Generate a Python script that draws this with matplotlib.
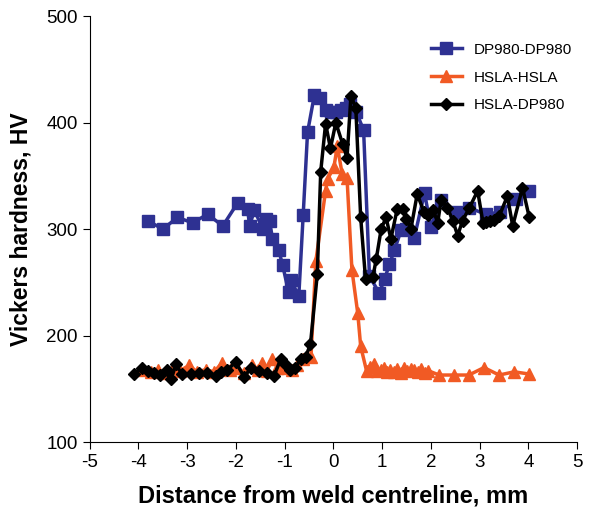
import matplotlib

matplotlib.use("Agg")
import matplotlib.pyplot as plt

plt.rcParams["font.family"] = ["Liberation Sans", "DejaVu Sans"]
plt.rcParams["axes.unicode_minus"] = False

# DP980-DP980 (blue squares)
dp_x = [-3.81, -3.50, -3.20, -2.89, -2.58, -2.27, -1.96, -1.76, -1.72, -1.62,
        -1.45, -1.38, -1.31, -1.25, -1.12, -1.04, -0.92, -0.87, -0.71, -0.62,
        -0.53, -0.39, -0.27, -0.15, -0.05, 0.05, 0.15, 0.25, 0.35, 0.47,
        0.62, 0.74, 0.94, 1.05, 1.15, 1.25, 1.39, 1.50, 1.66, 1.87,
        2.00, 2.21, 2.52, 2.79, 3.13, 3.41, 3.75, 4.02]
dp_hv = [308, 300, 311, 306, 314, 303, 325, 319, 303, 318,
         300, 310, 308, 291, 280, 266, 241, 252, 237, 313,
         391, 426, 423, 412, 410, 410, 412, 414, 418, 410,
         393, 256, 240, 253, 267, 280, 299, 300, 292, 334,
         302, 327, 316, 320, 314, 316, 328, 336]

# HSLA-HSLA (orange triangles)
hsla_x = [-3.90, -3.75, -3.60, -3.45, -3.30, -3.15, -2.96, -2.80, -2.62, -2.45,
          -2.29, -2.12, -1.97, -1.83, -1.68, -1.55, -1.47, -1.36, -1.26, -1.15,
          -1.05, -0.95, -0.85, -0.75, -0.62, -0.46, -0.36, -0.16, -0.12, 0.01,
          0.08, 0.18, 0.28, 0.38, 0.50, 0.56, 0.68, 0.76, 0.83, 0.90,
          0.97, 1.03, 1.10, 1.17, 1.24, 1.31, 1.38, 1.45, 1.52, 1.59,
          1.66, 1.73, 1.80, 1.87, 1.95, 2.17, 2.47, 2.78, 3.09, 3.40,
          3.71, 4.01]
hsla_hv = [168, 166, 168, 165, 170, 167, 172, 166, 168, 166,
           174, 168, 170, 165, 172, 168, 174, 167, 178, 170,
           173, 170, 168, 172, 178, 180, 270, 336, 347, 358,
           378, 352, 348, 262, 221, 190, 167, 171, 173, 167,
           168, 170, 166, 168, 166, 169, 165, 170, 167, 169,
           168, 166, 169, 165, 167, 163, 163, 163, 170, 163,
           166, 164]

# HSLA-DP980 (black diamonds)
mix_x = [-4.10, -3.93, -3.80, -3.69, -3.55, -3.42, -3.33, -3.23, -3.11, -2.93,
         -2.76, -2.60, -2.41, -2.30, -2.18, -2.00, -1.83, -1.69, -1.53, -1.36,
         -1.22, -1.08, -0.98, -0.88, -0.78, -0.67, -0.57, -0.47, -0.33, -0.26,
         -0.16, -0.06, 0.05, 0.19, 0.28, 0.36, 0.46, 0.56, 0.66, 0.81,
         0.88, 0.98, 1.08, 1.18, 1.31, 1.42, 1.50, 1.59, 1.72, 1.86,
         1.95, 2.05, 2.14, 2.21, 2.34, 2.45, 2.55, 2.65, 2.79, 2.96,
         3.07, 3.14, 3.22, 3.30, 3.40, 3.57, 3.68, 3.88, 4.02]
mix_hv = [164, 170, 167, 165, 163, 168, 159, 173, 164, 164,
          165, 165, 162, 166, 168, 175, 161, 170, 167, 165,
          162, 178, 172, 168, 170, 178, 180, 192, 258, 354,
          399, 376, 400, 380, 367, 425, 414, 311, 253, 255,
          272, 300, 311, 291, 319, 319, 310, 300, 333, 316,
          313, 318, 306, 327, 320, 308, 294, 308, 320, 336,
          306, 307, 308, 309, 312, 331, 303, 339, 311]

fig = plt.figure(figsize=(5.98, 5.07), dpi=100)
ax = fig.add_axes([0.150, 0.128, 0.815, 0.840])

ax.plot(dp_x, dp_hv, "s-", color="#2E3192", lw=2.5, ms=8, label="DP980-DP980")
ax.plot(hsla_x, hsla_hv, "^-", color="#F15A24", lw=2.5, ms=8, label="HSLA-HSLA")
ax.plot(mix_x, mix_hv, "D-", color="black", lw=2.5, ms=6.5, label="HSLA-DP980")

ax.set_xlim(-5, 5)
ax.set_ylim(100, 500)
ax.set_xticks(range(-5, 6))
ax.set_yticks(range(100, 501, 100))
ax.spines["top"].set_visible(False)
ax.spines["right"].set_visible(False)
ax.tick_params(direction="out", length=5, labelsize=13.5)

ax.set_xlabel("Distance from weld centreline, mm", fontsize=17,
              fontweight="bold", labelpad=10)
ax.set_ylabel("Vickers hardness, HV", fontsize=16.5, fontweight="bold",
              labelpad=10)

ax.legend(loc="upper left", bbox_to_anchor=(0.672, 0.97), frameon=False,
          fontsize=11, handlelength=2.0, labelspacing=0.9)

fig.savefig("out.png", dpi=100)
